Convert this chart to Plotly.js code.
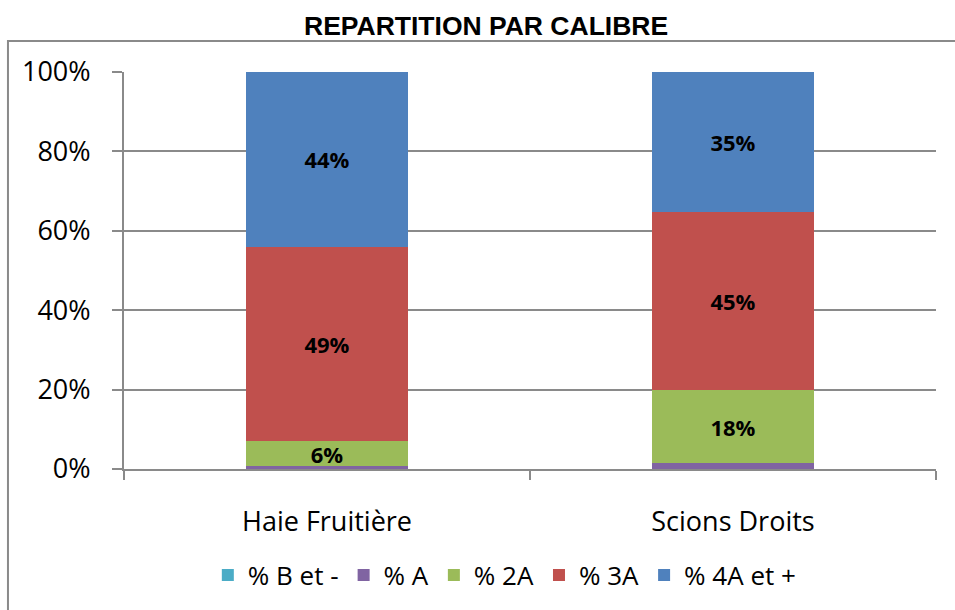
<!DOCTYPE html>
<html>
<head>
<meta charset="utf-8">
<script src="https://cdn.plot.ly/plotly-3.0.1.min.js"></script>
<style>html,body{margin:0;padding:0;background:#fff;}#chart{width:955px;height:610px;}</style>
</head>
<body>
<div id="chart"></div>
<script>
const categories = ["Haie Fruitière", "Scions Droits"];
const seriesNames = ["% B et -", "% A", "% 2A", "% 3A", "% 4A et +"];
const valB  = [0.0, 0.0];
const valA  = [0.8, 1.5];
const val2A = [6.2, 18.3];
const val3A = [49.0, 45.0];
const val4A = [44.0, 35.2];
const labels2A = ["6%", "18%"];
const labels3A = ["49%", "45%"];
const labels4A = ["44%", "35%"];
const colors = ["#4BACC6", "#8064A2", "#9BBB59", "#C0504D", "#4F81BD"];

const allVals = [valB, valA, val2A, val3A, val4A];
const allLabels = [["", ""], ["", ""], labels2A, labels3A, labels4A];

const traces = allVals.map((v, i) => ({
  type: "bar",
  name: seriesNames[i],
  x: categories,
  y: v.map(d => d / 100),
  text: allLabels[i],
  textposition: "inside",
  insidetextanchor: "middle",
  constraintext: "none",
  textangle: 0,
  textfont: {family: "Open Sans, sans-serif", size: 22, color: "#000", weight: 700},
  marker: {color: colors[i], line: {width: 0}},
  hoverinfo: "skip"
}));

const layout = {
  width: 955, height: 610,
  paper_bgcolor: "#fff", plot_bgcolor: "#fff",
  margin: {l: 124, r: 19, t: 72, b: 141},
  barmode: "stack",
  bargap: 0.6,
  showlegend: true,
  title: {text: "<b>REPARTITION PAR CALIBRE</b>", font: {family: "Liberation Sans, Arial, sans-serif", size: 26.5, color: "#000"}, x: 0.509, xanchor: "center", xref: "container", y: 0.958, yanchor: "middle"},
  font: {family: "Open Sans, sans-serif", color: "#000"},
  xaxis: {
    type: "category",
    showline: true, linecolor: "#8a8a8a", linewidth: 2,
    ticks: "outside", ticklen: 9, tickcolor: "#8a8a8a", tickwidth: 2,
    tickson: "boundaries",
    showgrid: false, zeroline: false,
    tickfont: {family: "Open Sans, sans-serif", size: 27, color: "#000"},
    ticklabelstandoff: 28
  },
  yaxis: {
    range: [0, 1],
    tickvals: [0, 0.2, 0.4, 0.6, 0.8, 1.0],
    ticktext: ["0%", "20%", "40%", "60%", "80%", "100%"],
    showline: true, linecolor: "#8a8a8a", linewidth: 2,
    ticks: "outside", ticklen: 10, tickcolor: "#8a8a8a", tickwidth: 2,
    showgrid: true, gridcolor: "#8a8a8a", gridwidth: 2,
    zeroline: false,
    tickfont: {family: "Open Sans, sans-serif", size: 27, color: "#000"},
    ticklabelstandoff: 16
  },
  legend: {
    orientation: "h",
    x: 0.469, xanchor: "center",
    y: -0.267, yanchor: "middle",
    font: {family: "Open Sans, sans-serif", size: 26, color: "#000"},
    traceorder: "normal",
    itemclick: false
  },
  shapes: [{
    type: "rect", xref: "paper", yref: "paper",
    x0: -0.1429, x1: 1.05, y0: -0.4, y1: 1.078,
    line: {color: "#8a8a8a", width: 2}, fillcolor: "rgba(0,0,0,0)", layer: "below"
  }]
};

Plotly.newPlot("chart", traces, layout, {staticPlot: true, displayModeBar: false});
</script>
</body>
</html>
